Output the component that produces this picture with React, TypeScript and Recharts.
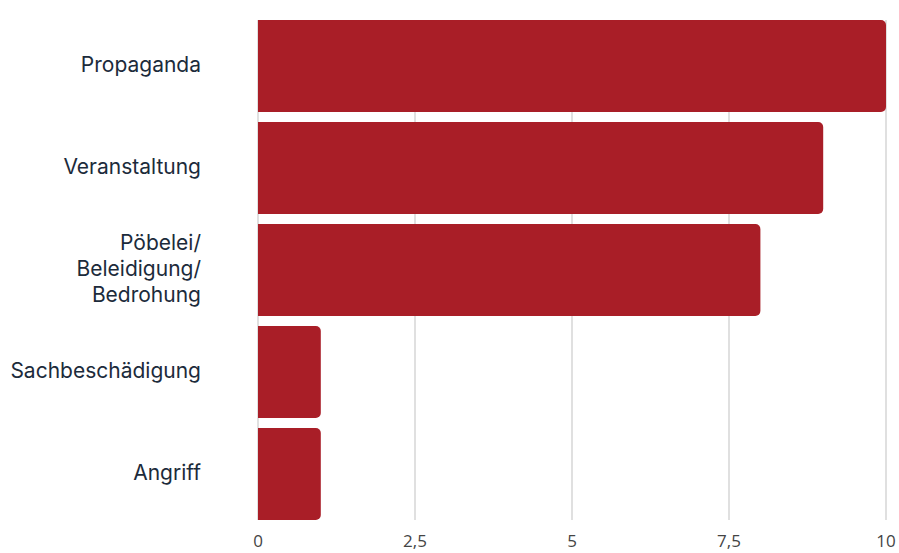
import { BarChart, Bar, XAxis, YAxis, CartesianGrid } from 'recharts';

const categories = ['Propaganda', 'Veranstaltung', 'Pöbelei/\nBeleidigung/\nBedrohung', 'Sachbeschädigung', 'Angriff'];
const counts = [10, 9, 8, 1, 1];
const xTicks = [0, 2.5, 5, 7.5, 10];

const data = categories.map((name, i) => ({ name, value: counts[i] }));

function CategoryTick({ x, y, payload }: any) {
  const lines = String(payload.value).split('\n');
  const lineHeight = 26;
  const startY = y - 2 - ((lines.length - 1) * lineHeight) / 2;
  return (
    <text
      x={x}
      y={startY}
      textAnchor="end"
      dominantBaseline="central"
      fill="#1c2b3b"
      style={{ fontFamily: 'Inter, sans-serif', fontSize: 21 }}
    >
      {lines.map((line, i) => (
        <tspan key={i} x={x} dy={i === 0 ? 0 : lineHeight}>
          {line}
        </tspan>
      ))}
    </text>
  );
}

export default function App() {
  return (
    <div style={{ position: 'absolute', left: 0, top: 0, background: '#fff' }}>
      <BarChart
        width={899}
        height={553}
        data={data}
        layout="vertical"
        margin={{ top: 20, right: 13, left: 0, bottom: 0 }}
        barCategoryGap={5}
      >
        <CartesianGrid horizontal={false} stroke="#d6d6d6" strokeWidth={1.5} />
        <XAxis
          type="number"
          domain={[0, 10]}
          ticks={xTicks}
          height={33}
          axisLine={false}
          tickLine={false}
          tickSize={0}
          tickMargin={15}
          tickFormatter={(v: number) => String(v).replace('.', ',')}
          tick={{ fill: '#444', fontSize: 17, fontFamily: '"Open Sans", sans-serif' }}
        />
        <YAxis
          type="category"
          dataKey="name"
          width={258}
          axisLine={false}
          tickLine={false}
          tickSize={0}
          tickMargin={57}
          padding={{ top: -5, bottom: -5 }}
          tick={<CategoryTick />}
        />
        <Bar dataKey="value" fill="#a91e27" radius={[0, 5, 5, 0]} isAnimationActive={false} />
      </BarChart>
    </div>
  );
}
